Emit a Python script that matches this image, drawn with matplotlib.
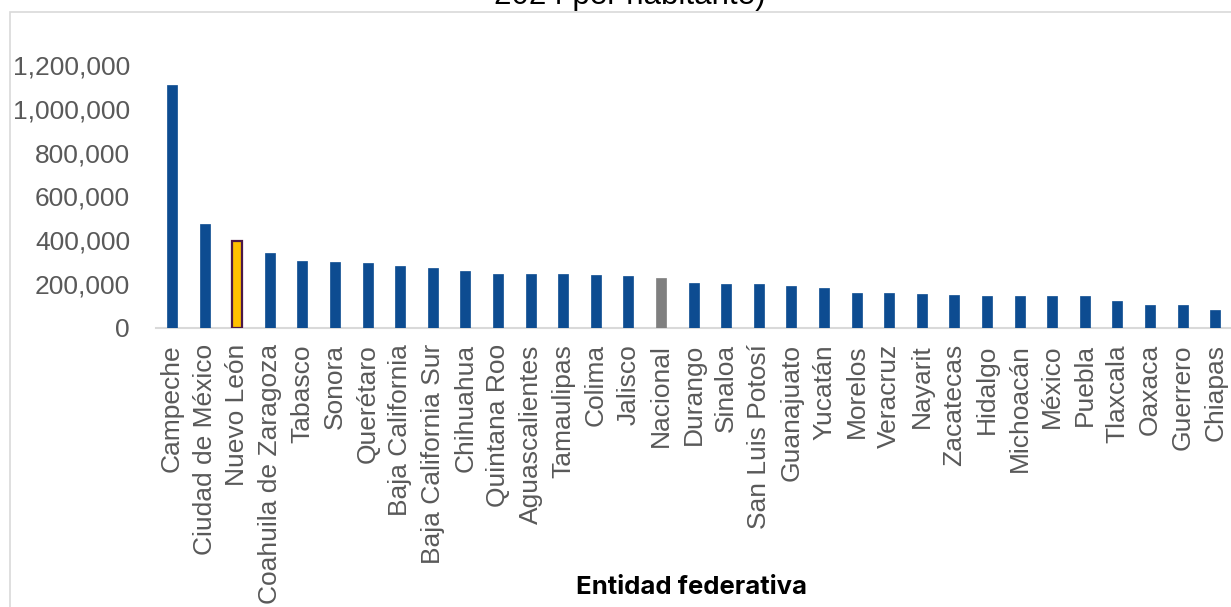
import matplotlib
matplotlib.use("Agg")
import matplotlib.pyplot as plt
from matplotlib.patches import Rectangle
from matplotlib.ticker import FuncFormatter

entidades = ["Campeche", "Ciudad de México", "Nuevo León", "Coahuila de Zaragoza",
             "Tabasco", "Sonora", "Querétaro", "Baja California", "Baja California Sur",
             "Chihuahua", "Quintana Roo", "Aguascalientes", "Tamaulipas", "Colima",
             "Jalisco", "Nacional", "Durango", "Sinaloa", "San Luis Potosí", "Guanajuato",
             "Yucatán", "Morelos", "Veracruz", "Nayarit", "Zacatecas", "Hidalgo",
             "Michoacán", "México", "Puebla", "Tlaxcala", "Oaxaca", "Guerrero", "Chiapas"]
valores = [1108000, 475000, 394000, 340000, 303000, 300000, 296000, 282000, 270000,
           258000, 246000, 245000, 243000, 241000, 237000, 227000, 203000, 201000,
           200000, 191000, 180000, 160000, 158000, 151000, 148000, 146000, 145000,
           145000, 143000, 122000, 105000, 101000, 81000]
y_ticks = [0, 200000, 400000, 600000, 800000, 1000000, 1200000]

azul = "#0D4C91"
colores = []
bordes = []
for e in entidades:
    if e == "Nuevo León":
        colores.append("#FFC000"); bordes.append("#4B1848")
    elif e == "Nacional":
        colores.append("#7F7F7F"); bordes.append("#7F7F7F")
    else:
        colores.append(azul); bordes.append(azul)

fig = plt.figure(figsize=(12.31, 6.07), dpi=100)
W, H = 1231, 607

# outer chart frame
fig.patches.append(Rectangle((10 / W, -0.1), 1.2, 1 - 12 / H + 0.1, transform=fig.transFigure,
                             fill=False, edgecolor="#D9D9D9", linewidth=1.2))

ax = fig.add_axes([155.7 / W, 1 - 327.5 / H, 1075.8 / W, (327.5 - 65) / H])
x = list(range(len(entidades)))
lw = [1.6 if e == "Nuevo León" else 0.5 for e in entidades]
ax.bar(x, valores, width=0.31, color=colores, edgecolor=bordes, linewidth=lw, zorder=3)

ax.set_xlim(-0.5, len(entidades) - 0.5)
ax.set_ylim(0, 1200000)
ax.set_yticks(y_ticks)
ax.yaxis.set_major_formatter(FuncFormatter(lambda v, p: f"{int(v):,}"))
ax.set_xticks(x)
ax.set_xticklabels(entidades, rotation=90, ha="center", va="top")

for s in ["top", "right", "left"]:
    ax.spines[s].set_visible(False)
ax.spines["bottom"].set_color("#D9D9D9")
ax.spines["bottom"].set_linewidth(1.5)

ax.tick_params(axis="y", length=0, pad=18.5, labelsize=19, labelcolor="#595959")
ax.tick_params(axis="x", length=0, pad=12, labelsize=19, labelcolor="#595959")
for lab in ax.get_xticklabels() + ax.get_yticklabels():
    lab.set_fontfamily("Liberation Sans")

fig.text(691.5 / W, 1 - 594 / H, "Entidad federativa", ha="center", va="baseline",
         fontsize=18.5, fontweight="bold", family="Inter", color="#000000")

fig.text(630 / W, 1 - 4 / H, "2024 per habitante)", ha="center", va="baseline",
         fontsize=22.5, family="Liberation Sans", color="#000000")

fig.savefig("out.png", dpi=100)
